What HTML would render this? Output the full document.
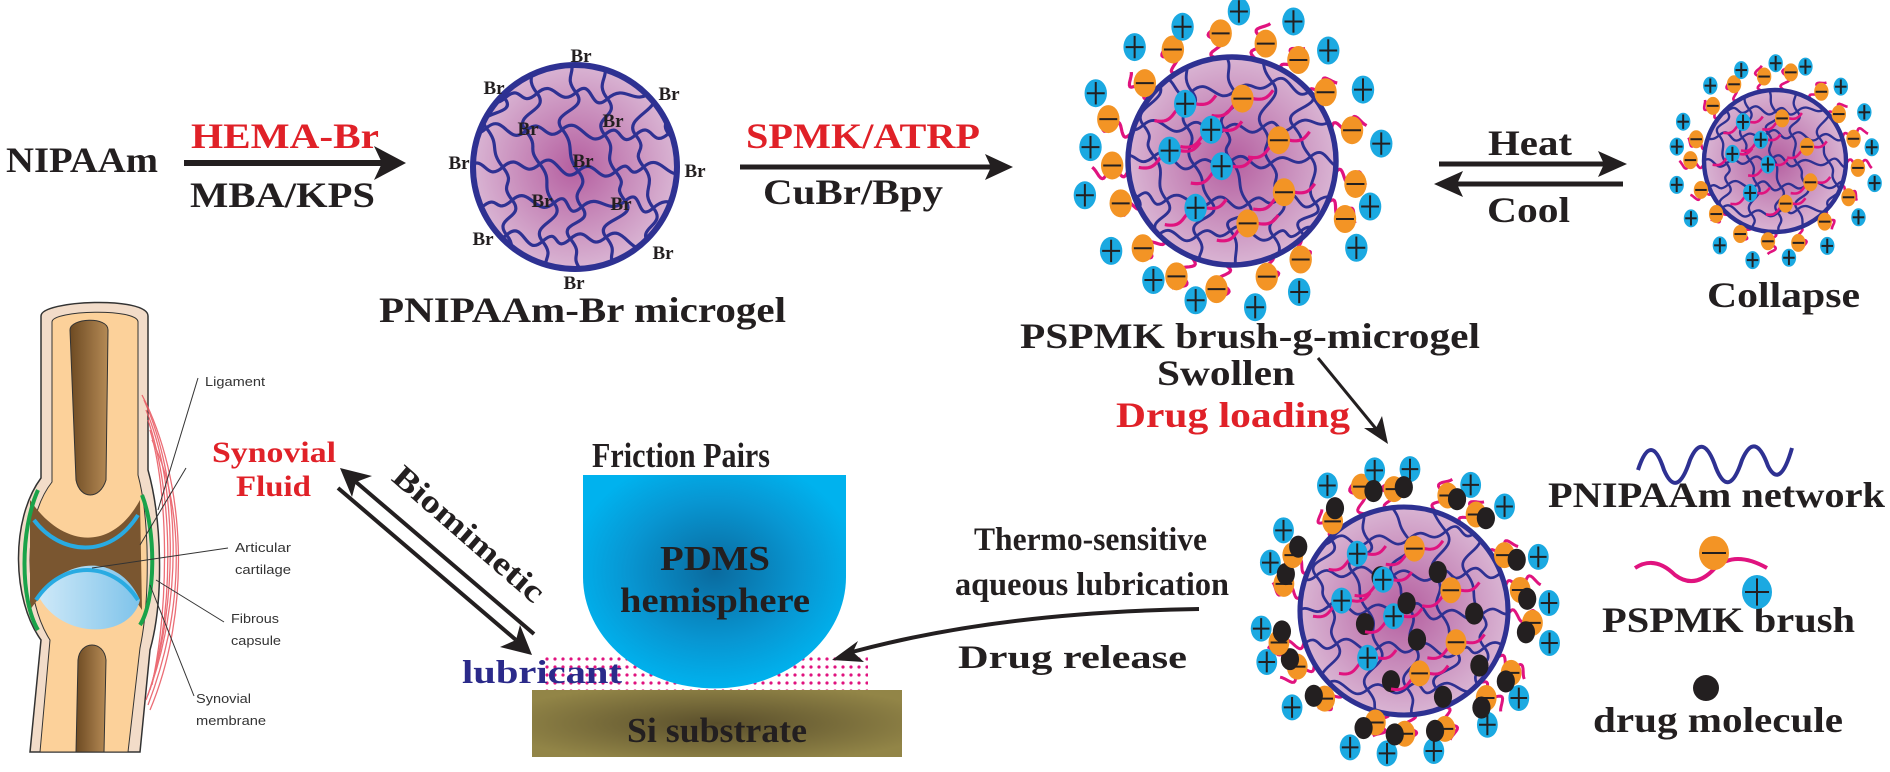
<!DOCTYPE html>
<html><head><meta charset="utf-8">
<style>
html,body{margin:0;padding:0;background:#fff;}
svg{display:block;}
.t{font-family:"Liberation Serif",serif;font-weight:bold;fill:#231f20;}
.s{font-family:"Liberation Sans",sans-serif;fill:#333;font-size:13px;}
</style></head>
<body>
<svg id="sv" width="1890" height="772" viewBox="0 0 1890 772" xmlns="http://www.w3.org/2000/svg">
<defs>
<radialGradient id="gel" cx="50%" cy="50%" r="50%">
<stop offset="0" stop-color="#b55fa0"/><stop offset="1" stop-color="#d9b4d3"/></radialGradient>
<radialGradient id="pdms" cx="50%" cy="45%" r="55%">
<stop offset="0" stop-color="#0a6a9e"/><stop offset="0.6" stop-color="#0896d2"/><stop offset="1" stop-color="#00b2ee"/></radialGradient>
<radialGradient id="si" cx="50%" cy="50%" r="60%">
<stop offset="0" stop-color="#5a4f2c"/><stop offset="1" stop-color="#928547"/></radialGradient>
<linearGradient id="marrow" x1="0" x2="1"><stop offset="0" stop-color="#6d4a22"/><stop offset="1" stop-color="#b58a55"/></linearGradient>
<linearGradient id="cart" x1="0" x2="1"><stop offset="0" stop-color="#cfe9f8"/><stop offset="1" stop-color="#7ec3ea"/></linearGradient>
<pattern id="dots" width="8" height="8" patternUnits="userSpaceOnUse"><circle cx="3" cy="3" r="1.6" fill="#e0137f"/></pattern>
</defs>

<!-- Knee illustration -->
<g>
<path d="M41,316 C41,300 148,296 148,316 L148,470 C162,520 164,600 150,650 L140,752 L30,752 L41,640 C12,600 10,520 41,478 Z" fill="#f2dcc9" stroke="#333" stroke-width="1.5"/>
<path d="M52,322 C52,310 138,308 138,322 L138,475 C150,520 150,600 140,648 L128,752 L40,752 L50,640 C24,600 22,520 52,482 Z" fill="#fcd19a" stroke="#333" stroke-width="1"/>
<path d="M70,330 C70,318 108,316 108,330 L106,480 C100,500 80,500 76,480 Z" fill="url(#marrow)" stroke="#333"/>
<path d="M78,660 C80,640 104,640 106,660 L104,752 L76,752 Z" fill="url(#marrow)" stroke="#333"/>
<path d="M30,500 C60,545 110,555 140,500 L142,610 C110,560 60,565 30,610 Z" fill="#7a5630"/>
<path d="M38,595 C70,555 120,555 140,600 C130,640 60,640 38,595 Z" fill="url(#cart)"/>
<path d="M34,520 C60,555 110,560 138,515" fill="none" stroke="#29abe2" stroke-width="4"/>
<path d="M36,600 C62,560 112,560 138,600" fill="none" stroke="#29abe2" stroke-width="4"/>
<path d="M38,490 C20,530 20,600 38,630" fill="none" stroke="#1aa34a" stroke-width="4"/>
<path d="M142,495 C156,530 156,600 140,625" fill="none" stroke="#1aa34a" stroke-width="4"/>
<g stroke="#e8545e" stroke-width="1.3" fill="none" opacity="0.85">
<path d="M144,400 C180,480 185,600 146,700"/><path d="M146,410 C176,480 180,600 148,695"/>
<path d="M148,420 C172,490 176,600 150,690"/><path d="M150,430 C168,490 170,600 152,685"/>
<path d="M152,440 C182,500 188,600 148,705"/><path d="M142,395 C186,480 192,610 150,710"/>
</g>
<g stroke="#333" stroke-width="1"><line x1="198" y1="378" x2="158" y2="510"/><line x1="186" y1="468" x2="140" y2="545"/><line x1="228" y1="548" x2="92" y2="568"/><line x1="224" y1="622" x2="156" y2="580"/><line x1="194" y1="696" x2="150" y2="585"/></g>
<text class="s" x="205" y="386" textLength="60" lengthAdjust="spacingAndGlyphs">Ligament</text>
<text class="s" x="235" y="552" textLength="56" lengthAdjust="spacingAndGlyphs">Articular</text>
<text class="s" x="235" y="574" textLength="56" lengthAdjust="spacingAndGlyphs">cartilage</text>
<text class="s" x="231" y="623" textLength="48" lengthAdjust="spacingAndGlyphs">Fibrous</text>
<text class="s" x="231" y="645" textLength="50" lengthAdjust="spacingAndGlyphs">capsule</text>
<text class="s" x="196" y="703" textLength="55" lengthAdjust="spacingAndGlyphs">Synovial</text>
<text class="s" x="196" y="725" textLength="70" lengthAdjust="spacingAndGlyphs">membrane</text>
</g>

<text class="t" x="212" y="462" font-size="30" style="fill:#e02128" textLength="124" lengthAdjust="spacingAndGlyphs">Synovial</text>
<text class="t" x="236" y="496" font-size="30" style="fill:#e02128" textLength="75" lengthAdjust="spacingAndGlyphs">Fluid</text>

<!-- Biomimetic arrows -->
<g stroke="#231f20" stroke-width="4" fill="#231f20">
<line x1="534" y1="634" x2="356" y2="482"/>
<polygon points="340,468 372,476 356,482 352,497" stroke="none"/>
<line x1="338" y1="488" x2="516" y2="640"/>
<polygon points="532,655 500,647 516,640 520,625" stroke="none"/>
</g>
<text class="t" font-size="32" transform="translate(462,542) rotate(41)" text-anchor="middle" textLength="190" lengthAdjust="spacingAndGlyphs">Biomimetic</text>

<!-- Friction pairs -->
<text class="t" x="592" y="467" font-size="35" textLength="178" lengthAdjust="spacingAndGlyphs">Friction Pairs</text>
<rect x="543" y="656" width="325" height="34" fill="url(#dots)"/>
<path d="M583,475 L846,475 L846,577 A131,111 0 0 1 583,577 Z" fill="url(#pdms)"/>
<text class="t" x="715" y="570" font-size="35" text-anchor="middle" textLength="110" lengthAdjust="spacingAndGlyphs">PDMS</text>
<text class="t" x="715" y="612" font-size="35" text-anchor="middle" textLength="190" lengthAdjust="spacingAndGlyphs">hemisphere</text>
<rect x="532" y="690" width="370" height="67" fill="url(#si)"/>
<text class="t" x="717" y="742" font-size="35" text-anchor="middle" textLength="180" lengthAdjust="spacingAndGlyphs">Si substrate</text>
<text class="t" x="462" y="683" font-size="33" style="fill:#2b2a8a" textLength="160" lengthAdjust="spacingAndGlyphs">lubricant</text>

<!-- Top row text/arrows -->
<text class="t" x="6" y="172" font-size="36" textLength="152" lengthAdjust="spacingAndGlyphs">NIPAAm</text>
<text class="t" x="191" y="148" font-size="36" style="fill:#e02128" textLength="188" lengthAdjust="spacingAndGlyphs">HEMA-Br</text>
<text class="t" x="190" y="207" font-size="36" textLength="185" lengthAdjust="spacingAndGlyphs">MBA/KPS</text>
<line x1="184" y1="163" x2="385" y2="163" stroke="#231f20" stroke-width="6"/>
<polygon points="406,163 374,146 382,163 374,180" fill="#231f20"/>

<text class="t" x="746" y="148" font-size="36" style="fill:#e02128" textLength="234" lengthAdjust="spacingAndGlyphs">SPMK/ATRP</text>
<text class="t" x="763" y="204" font-size="36" textLength="180" lengthAdjust="spacingAndGlyphs">CuBr/Bpy</text>
<line x1="740" y1="167" x2="995" y2="167" stroke="#231f20" stroke-width="5"/>
<polygon points="1013,167 985,154 991,167 985,180" fill="#231f20"/>

<text class="t" x="379" y="322" font-size="36" textLength="407" lengthAdjust="spacingAndGlyphs">PNIPAAm-Br microgel</text>

<text class="t" x="1488" y="155" font-size="36" textLength="84" lengthAdjust="spacingAndGlyphs">Heat</text>
<line x1="1439" y1="164" x2="1610" y2="164" stroke="#231f20" stroke-width="5"/>
<polygon points="1627,164 1598,151 1604,164 1598,177" fill="#231f20"/>
<line x1="1452" y1="184" x2="1623" y2="184" stroke="#231f20" stroke-width="5"/>
<polygon points="1434,184 1463,171 1457,184 1463,197" fill="#231f20"/>
<text class="t" x="1487" y="222" font-size="36" textLength="83" lengthAdjust="spacingAndGlyphs">Cool</text>
<text class="t" x="1707" y="307" font-size="36" textLength="153" lengthAdjust="spacingAndGlyphs">Collapse</text>

<text class="t" x="1020" y="348" font-size="36" textLength="460" lengthAdjust="spacingAndGlyphs">PSPMK brush-g-microgel</text>
<text class="t" x="1157" y="385" font-size="36" textLength="138" lengthAdjust="spacingAndGlyphs">Swollen</text>
<text class="t" x="1116" y="427" font-size="36" style="fill:#e02128" textLength="234" lengthAdjust="spacingAndGlyphs">Drug loading</text>
<line x1="1318" y1="358" x2="1377" y2="430" stroke="#231f20" stroke-width="3"/>
<polygon points="1388,444 1364,428 1376,428 1382,416" fill="#231f20"/>

<text class="t" x="974" y="550" font-size="33" textLength="233" lengthAdjust="spacingAndGlyphs">Thermo-sensitive</text>
<text class="t" x="955" y="595" font-size="33" textLength="274" lengthAdjust="spacingAndGlyphs">aqueous lubrication</text>
<text class="t" x="958" y="668" font-size="33" textLength="229" lengthAdjust="spacingAndGlyphs">Drug release</text>
<path d="M1199,609 Q1000,612 852,652" fill="none" stroke="#231f20" stroke-width="4"/>
<polygon points="832,660 858,641 853,652 864,662" fill="#231f20"/>

<!-- Legend -->
<path d="M1638,470 Q1651,430 1664,470 Q1677,500 1690,460 Q1703,430 1716,468 Q1729,500 1742,460 Q1755,430 1768,466 Q1780,490 1792,448" fill="none" stroke="#2e3192" stroke-width="4"/>
<text class="t" x="1548" y="507" font-size="36" textLength="337" lengthAdjust="spacingAndGlyphs">PNIPAAm network</text>
<path d="M1635,568 Q1655,555 1675,575 Q1695,590 1715,568 Q1735,550 1767,568" fill="none" stroke="#e0137f" stroke-width="4"/>
<text class="t" x="1602" y="632" font-size="36" textLength="253" lengthAdjust="spacingAndGlyphs">PSPMK brush</text>
<circle cx="1706" cy="688" r="13" fill="#231f20"/>
<text class="t" x="1593" y="732" font-size="36" textLength="250" lengthAdjust="spacingAndGlyphs">drug molecule</text>
<g id="dyn"></g>
</svg>
<script>
(function(){
var NS="http://www.w3.org/2000/svg";
var dyn=document.getElementById('dyn');
var seed=7;function rnd(){seed=(seed*16807)%2147483647;return (seed-1)/2147483646;}
function el(tag,attrs,parent){var e=document.createElementNS(NS,tag);for(var k in attrs)e.setAttribute(k,attrs[k]);(parent||dyn).appendChild(e);return e;}
var cid=0;
function network(cx,cy,r,sw){
  cid++;
  var cp=el('clipPath',{id:'c'+cid});el('circle',{cx:cx,cy:cy,r:r},cp);
  el('circle',{cx:cx,cy:cy,r:r,fill:'url(#gel)'});
  var g=el('g',{'clip-path':'url(#c'+cid+')',fill:'none',stroke:'#2e3192','stroke-width':sw,'stroke-linecap':'round'});
  var s=r/2.8,pts={};
  for(var i=-4;i<=4;i++)for(var j=-4;j<=4;j++){pts[i+','+j]=[cx+i*s+(j%2)*s*0.3+(rnd()-0.5)*s*0.3,cy+j*s+(rnd()-0.5)*s*0.3];}
  var d='';
  for(var i=-4;i<=4;i++)for(var j=-4;j<=4;j++){
    var p=pts[i+','+j];var q=pts[(i+1)+','+j];var w=pts[i+','+(j+1)];
    if(q){d+='M'+p[0]+','+p[1]+' C'+(p[0]+s*0.5)+','+(p[1]-s*0.45)+' '+(q[0]-s*0.5)+','+(q[1]+s*0.45)+' '+q[0]+','+q[1];}
    if(w){d+='M'+p[0]+','+p[1]+' C'+(p[0]+s*0.4)+','+(p[1]+s*0.5)+' '+(w[0]-s*0.4)+','+(w[1]-s*0.5)+' '+w[0]+','+w[1];}
  }
  el('path',{d:d},g);
  return g;
}
function wavy(x1,y1,x2,y2,amp,waves,parent,sw){
  var dx=x2-x1,dy=y2-y1,L=Math.sqrt(dx*dx+dy*dy),nx=-dy/L,ny=dx/L,d='';
  for(var k=0;k<=30;k++){var t=k/30,o=amp*Math.sin(t*waves*2*Math.PI);d+=(k?'L':'M')+(x1+dx*t+nx*o).toFixed(1)+','+(y1+dy*t+ny*o).toFixed(1);}
  el('path',{d:d,fill:'none',stroke:'#e0137f','stroke-width':sw,'stroke-linejoin':'round'},parent);
}
function charge(x,y,rx,ry,plus,parent){
  el('ellipse',{cx:x,cy:y,rx:rx,ry:ry,fill:plus?'#1ba9e1':'#f39425'},parent);
  el('line',{x1:x-rx*0.8,y1:y,x2:x+rx*0.8,y2:y,stroke:'#231f20','stroke-width':2},parent);
  if(plus)el('line',{x1:x,y1:y-ry*0.8,x2:x,y2:y+ry*0.8,stroke:'#231f20','stroke-width':2},parent);
}
function gel(cx,cy,r,R,n,cr,sw,drug){
  var br=[];
  for(var k=0;k<n;k++){
    var a=k/n*2*Math.PI+0.1+(rnd()-0.5)*0.15;
    var re=R-cr*(0.5+rnd()*1.2);
    br.push([a,re]);
    var ca=Math.cos(a),sa=Math.sin(a);
    wavy(cx+ca*r*0.9,cy+sa*r*0.9,cx+ca*re,cy+sa*re,cr*0.45,2.2,dyn,sw);
  }
  network(cx,cy,r,sw*0.9);
  el('circle',{cx:cx,cy:cy,r:r,fill:'none',stroke:'#2e3192','stroke-width':sw*1.7});
  for(var k=0;k<n;k++){
    var a=br[k][0],re=br[k][1];
    var ro=r+(re-r)*(0.4+rnd()*0.35);
    charge(cx+Math.cos(a+0.05)*ro,cy+Math.sin(a+0.05)*ro,cr*0.8,cr,false);
    var rb=R+cr*0.2-rnd()*cr*0.8,ab=a+Math.PI/n;
    charge(cx+Math.cos(ab)*rb,cy+Math.sin(ab)*rb,cr*0.8,cr,true);
    if(drug){var rd=r+(R-r)*0.45,ad=a+Math.PI/n*0.75;el('ellipse',{cx:cx+Math.cos(ad)*rd,cy:cy+Math.sin(ad)*rd,rx:cr*0.7,ry:cr*0.85,fill:'#231f20'});}
  }
  var inner=[[-0.45,-0.55],[0.1,-0.6],[-0.6,-0.1],[0.45,-0.2],[-0.1,0.05],[0.5,0.3],[-0.35,0.45],[0.15,0.6],[-0.2,-0.3]];
  inner.forEach(function(p,k){
    var x=cx+p[0]*r,y=cy+p[1]*r;
    wavy(x-cr*2.2,y+cr*1.2,x+cr*2.2,y-cr*0.6,cr*0.3,1.5,dyn,sw);
    charge(x,y,cr*0.8,cr,k%2==0);
    if(drug){el('ellipse',{cx:x+cr*1.8,cy:y+cr*1.8,rx:cr*0.7,ry:cr*0.85,fill:'#231f20'});}
  });
}
// microgel 1
network(575,167,102,3.2);
el('circle',{cx:575,cy:167,r:102,fill:'none',stroke:'#2e3192','stroke-width':6});
var br=[[581,55],[494,87],[669,93],[528,128],[613,120],[459,162],[583,160],[695,170],[542,200],[621,203],[483,238],[663,252],[574,282]];
br.forEach(function(p){var t=el('text',{x:p[0],y:p[1]+7,'text-anchor':'middle','font-size':19,'class':'t'});t.textContent='Br';});
gel(1232,161,104,150,17,14,3.2,false);
gel(1775,161,71,102,17,9,2.6,false);
gel(1404,611,104,148,18,13,3,true);
charge(1714,553,15,17,false);
charge(1757,592,15,17,true);
})();
</script>
</body></html>
